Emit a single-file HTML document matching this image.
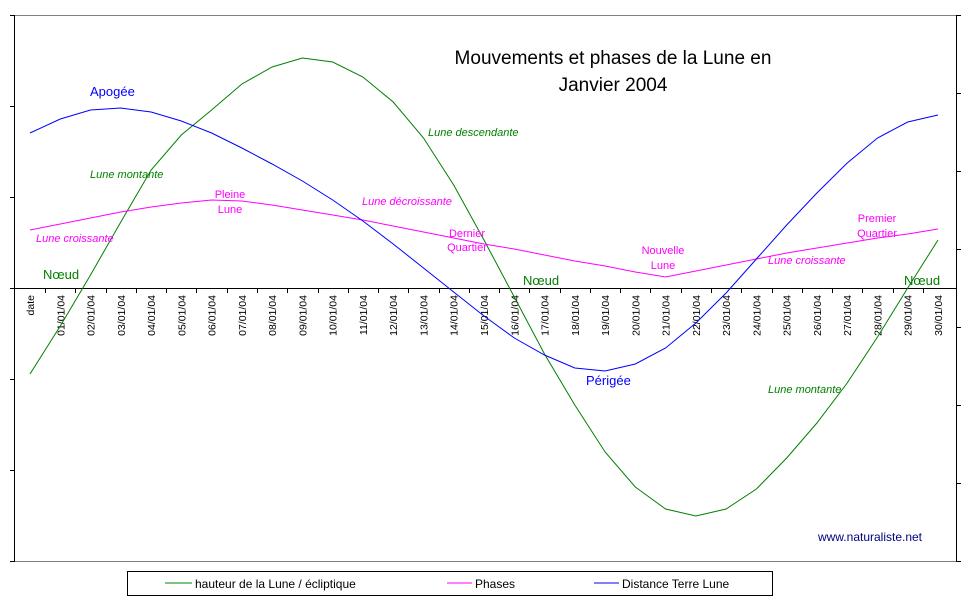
<!DOCTYPE html>
<html><head><meta charset="utf-8"><style>
body{margin:0;background:#fff;}
svg{display:block;font-family:"Liberation Sans",Arial,sans-serif;}
</style></head><body>
<svg id="chart" width="970" height="603" viewBox="0 0 970 603">
<rect x="0" y="0" width="970" height="603" fill="#fff"/>
<g id="frame"></g>
<g id="series"></g>
<g id="notes" font-size="11" font-style="italic">
<text x="428" y="136" fill="#008000">Lune descendante</text>
<text x="90" y="178" fill="#008000">Lune montante</text>
<text x="768" y="393" fill="#008000">Lune montante</text>
<text x="36" y="242" fill="#ff00ff">Lune croissante</text>
<text x="362" y="205" fill="#ff00ff">Lune décroissante</text>
<text x="768" y="264" fill="#ff00ff">Lune croissante</text>
</g>
<g font-size="11" fill="#ff00ff" text-anchor="middle">
<text x="230" y="198"><tspan x="230">Pleine</tspan><tspan x="230" dy="15">Lune</tspan></text>
<text x="467" y="237"><tspan x="467">Dernier</tspan><tspan x="467" dy="14">Quartier</tspan></text>
<text x="663" y="254"><tspan x="663">Nouvelle</tspan><tspan x="663" dy="15">Lune</tspan></text>
<text x="877" y="222"><tspan x="877">Premier</tspan><tspan x="877" dy="15">Quartier</tspan></text>
</g>
<g font-size="13">
<text x="90" y="96" fill="#0000ff">Apogée</text>
<text x="586" y="385" fill="#0000ff">Périgée</text>
<text x="43" y="279" fill="#008000">Nœud</text>
<text x="523" y="285" fill="#008000">Nœud</text>
<text x="904" y="285" fill="#008000">Nœud</text>
</g>
<text x="613" y="64" font-size="19" text-anchor="middle"><tspan x="613">Mouvements et phases de la Lune en</tspan><tspan x="613" dy="27">Janvier 2004</tspan></text>
<text x="870" y="541" font-size="12" fill="#000080" text-anchor="middle">www.naturaliste.net</text>
<g>
<rect x="127.5" y="571.5" width="645" height="24" fill="#fff" stroke="#000"/>
<line x1="165" y1="583" x2="192" y2="583" stroke="#008000"/>
<text x="195" y="588" font-size="12">hauteur de la Lune / écliptique</text>
<line x1="447" y1="583" x2="472" y2="583" stroke="#ff00ff"/>
<text x="475" y="588" font-size="12">Phases</text>
<line x1="594" y1="583" x2="619" y2="583" stroke="#0000ff"/>
<text x="622" y="588" font-size="12">Distance Terre Lune</text>
</g>
</svg>
<script>
const categories = ["date","01/01/04","02/01/04","03/01/04","04/01/04","05/01/04","06/01/04","07/01/04","08/01/04","09/01/04","10/01/04","11/01/04","12/01/04","13/01/04","14/01/04","15/01/04","16/01/04","17/01/04","18/01/04","19/01/04","20/01/04","21/01/04","22/01/04","23/01/04","24/01/04","25/01/04","26/01/04","27/01/04","28/01/04","29/01/04","30/01/04"];
const hauteur = [-86,-38,13,66,118,153,178,204,221,230,226,211,186,150,103,48,-9,-66,-117,-164,-199,-221,-228,-221,-201,-170,-135,-95,-49,0,48];
const distance = [155,169,178,180,176,167,155,140,124,107,88,67,44,20,-4,-28,-50,-67,-80,-83,-76,-60,-35,-5,29,63,95,125,150,166,173];
const phases = [58,64,70,76,81,85,88,87,83,78,73,68,62,56,50,44,39,33,27,22,16,11,17,23,29,35,40,45,50,54,59];
const leftTicks = [-3,-2,-1,0,1,2,3];
const rightTicks = [0,1,2,3,4,5,6,7];

const NS = "http://www.w3.org/2000/svg";
const X0 = 30, STEP = (938 - 30) / 30, ZERO = 288;
const xs = i => X0 + i * STEP;
const ys = v => ZERO - v;
function mk(tag, attrs, parent) {
  const e = document.createElementNS(NS, tag);
  for (const k in attrs) e.setAttribute(k, attrs[k]);
  parent.appendChild(e);
  return e;
}
const frame = document.getElementById('frame');
mk('line', {x1: 14, y1: 15.5, x2: 956, y2: 15.5, stroke: '#808080'}, frame);
mk('line', {x1: 14, y1: 561.5, x2: 956, y2: 561.5, stroke: '#808080'}, frame);
const la = mk('line', {x1: 14.5, y1: 15, x2: 14.5, y2: 562, stroke: '#000'}, frame);


leftTicks.forEach(t => {
  mk('line', {x1: 10, x2: 15, y1: 288.5 - t * 91, y2: 288.5 - t * 91, stroke: '#000'}, frame);
});
const ra = mk('line', {x1: 956.5, y1: 15, x2: 956.5, y2: 562, stroke: '#000'}, frame);


rightTicks.forEach(t => {
  mk('line', {x1: 956, x2: 961, y1: 15.5 + t * 78, y2: 15.5 + t * 78, stroke: '#000'}, frame);
});
const xa = mk('line', {x1: 14, y1: 288.5, x2: 956, y2: 288.5, stroke: '#000'}, frame);


categories.forEach((c, i) => {
  const tx = Math.round(xs(i) + STEP / 2) + 0.5;
  if (i < categories.length - 1) mk('line', {x1: tx, x2: tx, y1: 288, y2: 293, stroke: '#000'}, frame);
  const x = xs(i) + 4;
  const t = mk('text', {x: x, y: 295, 'font-size': 10.5, 'text-anchor': 'end', transform: 'rotate(-90 ' + x + ' 295)'}, frame);
  
  
  t.textContent = c;
});
const sg = document.getElementById('series');
[[hauteur, '#008000', 'series-hauteur'], [phases, '#ff00ff', 'series-phases'], [distance, '#0000ff', 'series-distance']].forEach(([arr, col, name]) => {
  const p = mk('polyline', {points: arr.map((v, i) => xs(i).toFixed(1) + ',' + ys(v)).join(' '), fill: 'none', stroke: col, 'stroke-width': 1}, sg);
  
  
});
</script>
</body></html>
